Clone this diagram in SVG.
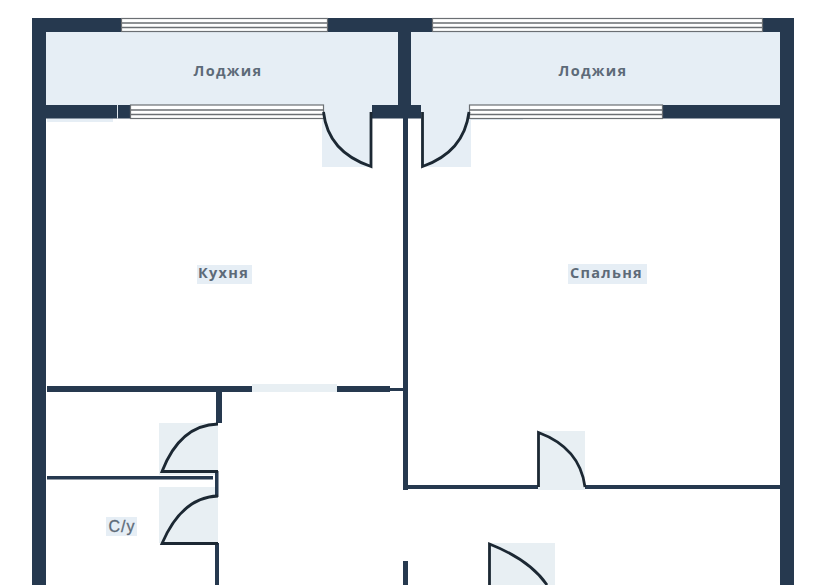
<svg xmlns="http://www.w3.org/2000/svg" width="820" height="585" viewBox="0 0 820 585">
<style>
.wall{fill:#26394f}
.pale{fill:#e6eef5}
.door{fill:#e8eff3}
.win{fill:#fff;stroke:#6b6f73;stroke-width:1.2}
.bar{stroke:#6b6f73;stroke-width:1.5;fill:none}
.leaf{fill:none;stroke:#1c2833;stroke-width:2.8}
.lbl{font-family:"Open Sans","Liberation Sans",sans-serif;font-size:14.500px;font-weight:700;fill:#5d6a78;text-anchor:middle;letter-spacing:1.300px}
</style>
<rect width="820" height="585" fill="#fff"/>

<g id="fills">
<rect class="pale" x="46" y="32" width="352" height="73"/>
<rect class="pale" x="411" y="32" width="369" height="73"/>
<rect class="pale" x="322" y="105" width="50" height="62"/>
<rect class="pale" x="421" y="105" width="50" height="62"/>
<rect class="door" x="159" y="423" width="59" height="52"/>
<rect class="door" x="159" y="487" width="59" height="56"/>
<rect class="door" x="538" y="431" width="47" height="59"/>
<rect class="door" x="488" y="543" width="67" height="42"/>
<rect class="door" x="252" y="384" width="85" height="8"/>
<rect class="pale" x="47" y="118" width="66" height="4"/>
<rect class="pale" x="470" y="118" width="53" height="2"/>
</g>

<g id="walls">
<rect class="wall" x="32" y="18" width="762" height="14"/>
<rect class="wall" x="32" y="18" width="14" height="567"/>
<rect class="wall" x="780" y="18" width="14" height="567"/>
<rect class="wall" x="398" y="32" width="13" height="73"/>
<rect class="wall" x="46" y="105" width="85" height="13.500"/>
<rect x="117" y="105" width="1" height="13.500" fill="#dfe7ee"/>
<rect class="wall" x="372" y="105" width="49" height="13.500"/>
<rect class="wall" x="662" y="105" width="118" height="13.500"/>
<rect class="wall" x="403" y="118" width="5" height="372"/>
<rect class="wall" x="47" y="386" width="205" height="6"/>
<rect class="wall" x="337" y="386" width="53" height="6"/>
<rect class="wall" x="390" y="388" width="13" height="3"/>
<rect class="wall" x="216" y="392" width="6" height="31"/>
<rect class="wall" x="47" y="476" width="166" height="3.500"/>
<rect class="wall" x="215" y="471" width="3.500" height="26"/>
<rect class="wall" x="215" y="543" width="4" height="42"/>
<rect class="wall" x="408" y="485" width="130" height="4"/>
<rect class="wall" x="585" y="485" width="195" height="4"/>
<rect class="wall" x="403" y="561" width="5" height="24"/>
</g>

<g id="windows">
<rect class="win" x="121.500" y="18.500" width="206" height="13"/><path class="bar" d="M122 23H327M122 27.500H327"/>
<rect class="win" x="432.500" y="18.500" width="330" height="13"/><path class="bar" d="M433 23H762M433 27.500H762"/>
<rect class="win" x="130.500" y="105" width="193" height="13.500"/><path class="bar" d="M131 110H323M131 114.500H323"/>
<rect class="win" x="469.500" y="105" width="193" height="13.500"/><path class="bar" d="M470 110H662M470 114.500H662"/>
</g>

<g id="doors">
<path class="leaf" d="M323.500 112Q328 152 371 166.500V112"/>
<path class="leaf" d="M469 112Q464 152 422.500 166.500V112"/>
<path class="leaf" d="M218 424Q180 425 162 471.500H218"/>
<path class="leaf" d="M218 496Q182 497 162 543.500H218"/>
<path class="leaf" d="M538.500 487V432.500Q580 448 585 487"/>
<path class="leaf" d="M489.500 585V544Q530 560 547 585"/>
</g>

<g id="labels">
<rect class="pale" x="197" y="265" width="55" height="19"/>
<rect class="pale" x="568" y="264" width="79" height="20"/>
<rect class="pale" x="106" y="517" width="31" height="19"/>
<text class="lbl" x="228" y="76">Лоджия</text>
<text class="lbl" x="593" y="76">Лоджия</text>
<text class="lbl" x="223.500" y="278">Кухня</text>
<text class="lbl" x="606.500" y="278">Спальня</text>
<text class="lbl" x="122" y="532" style="font-family:'Liberation Sans',sans-serif;font-weight:400;font-size:16px;letter-spacing:1px;stroke:#5d6a78;stroke-width:.3">С/у</text>
</g>
</svg>
